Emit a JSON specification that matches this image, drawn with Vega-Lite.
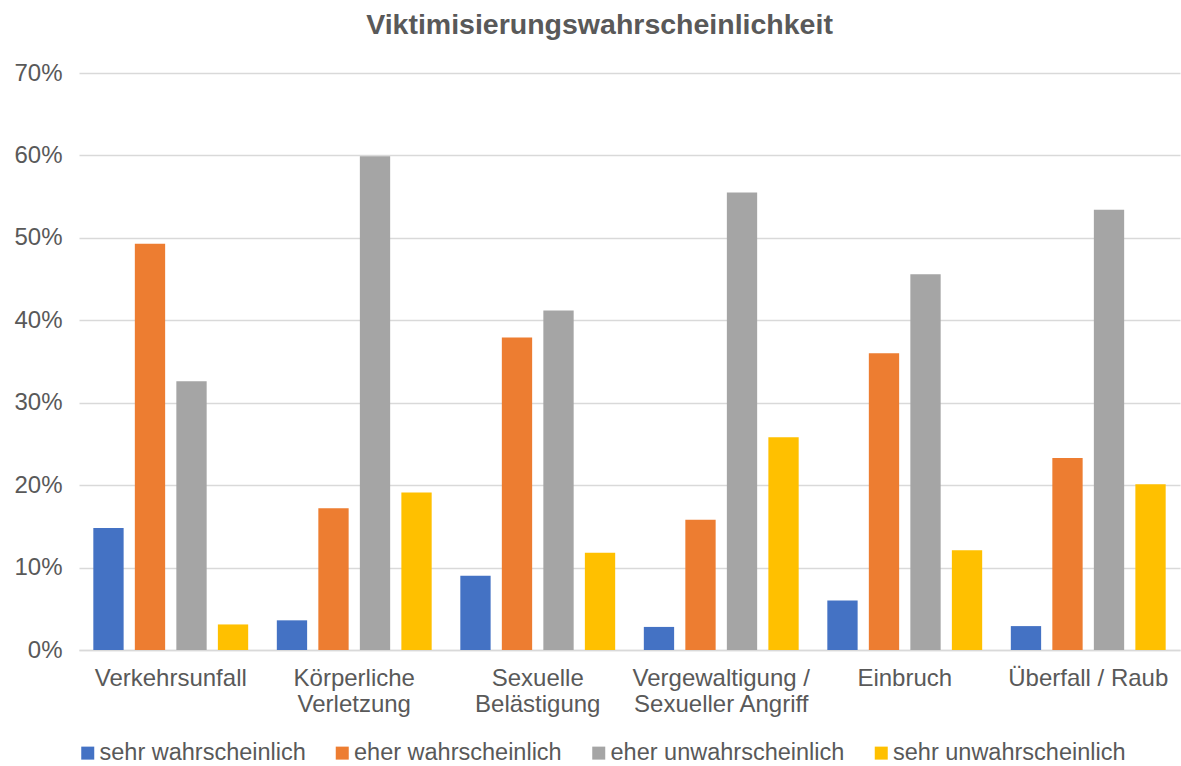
{
  "$schema": "https://vega.github.io/schema/vega-lite/v6.json",
  "width": 1101,
  "height": 577,
  "autosize": {"type": "none"},
  "padding": {"left": 79, "top": 73, "right": 1, "bottom": 116},
  "background": "white",
  "title": {
    "text": "Viktimisierungswahrscheinlichkeit",
    "fontSize": 28.5,
    "fontWeight": "bold",
    "color": "#595959",
    "anchor": "middle",
    "dx": -30,
    "offset": 22
  },
  "config": {
    "font": "Liberation Sans",
    "view": {"stroke": null}
  },
  "data": {
    "values": [
      {"delikt": "Verkehrsunfall", "stufe": "sehr wahrscheinlich", "anteil": 0.148},
      {"delikt": "Verkehrsunfall", "stufe": "eher wahrscheinlich", "anteil": 0.493},
      {"delikt": "Verkehrsunfall", "stufe": "eher unwahrscheinlich", "anteil": 0.326},
      {"delikt": "Verkehrsunfall", "stufe": "sehr unwahrscheinlich", "anteil": 0.031},
      {"delikt": "Körperliche|Verletzung", "stufe": "sehr wahrscheinlich", "anteil": 0.036},
      {"delikt": "Körperliche|Verletzung", "stufe": "eher wahrscheinlich", "anteil": 0.172},
      {"delikt": "Körperliche|Verletzung", "stufe": "eher unwahrscheinlich", "anteil": 0.599},
      {"delikt": "Körperliche|Verletzung", "stufe": "sehr unwahrscheinlich", "anteil": 0.191},
      {"delikt": "Sexuelle|Belästigung", "stufe": "sehr wahrscheinlich", "anteil": 0.090},
      {"delikt": "Sexuelle|Belästigung", "stufe": "eher wahrscheinlich", "anteil": 0.379},
      {"delikt": "Sexuelle|Belästigung", "stufe": "eher unwahrscheinlich", "anteil": 0.412},
      {"delikt": "Sexuelle|Belästigung", "stufe": "sehr unwahrscheinlich", "anteil": 0.118},
      {"delikt": "Vergewaltigung /|Sexueller Angriff", "stufe": "sehr wahrscheinlich", "anteil": 0.028},
      {"delikt": "Vergewaltigung /|Sexueller Angriff", "stufe": "eher wahrscheinlich", "anteil": 0.158},
      {"delikt": "Vergewaltigung /|Sexueller Angriff", "stufe": "eher unwahrscheinlich", "anteil": 0.555},
      {"delikt": "Vergewaltigung /|Sexueller Angriff", "stufe": "sehr unwahrscheinlich", "anteil": 0.258},
      {"delikt": "Einbruch", "stufe": "sehr wahrscheinlich", "anteil": 0.060},
      {"delikt": "Einbruch", "stufe": "eher wahrscheinlich", "anteil": 0.360},
      {"delikt": "Einbruch", "stufe": "eher unwahrscheinlich", "anteil": 0.456},
      {"delikt": "Einbruch", "stufe": "sehr unwahrscheinlich", "anteil": 0.121},
      {"delikt": "Überfall / Raub", "stufe": "sehr wahrscheinlich", "anteil": 0.029},
      {"delikt": "Überfall / Raub", "stufe": "eher wahrscheinlich", "anteil": 0.233},
      {"delikt": "Überfall / Raub", "stufe": "eher unwahrscheinlich", "anteil": 0.534},
      {"delikt": "Überfall / Raub", "stufe": "sehr unwahrscheinlich", "anteil": 0.201}
    ]
  },
  "mark": {"type": "bar"},
  "encoding": {
    "x": {
      "field": "delikt",
      "type": "nominal",
      "sort": null,
      "scale": {"paddingInner": 0, "paddingOuter": 0},
      "axis": {
        "title": null,
        "labelAngle": 0,
        "labelExpr": "split(datum.label, '|')",
        "labelFontSize": 24,
        "labelColor": "#595959",
        "labelLineHeight": 26,
        "labelPadding": 16,
        "labelBaseline": "top",
        "ticks": false,
        "domainColor": "#D9D9D9",
        "domainWidth": 1.5,
        "labelLimit": 400
      }
    },
    "xOffset": {
      "field": "stufe",
      "type": "nominal",
      "sort": ["sehr wahrscheinlich", "eher wahrscheinlich", "eher unwahrscheinlich", "sehr unwahrscheinlich"],
      "scale": {"paddingInner": 0.27, "paddingOuter": 0.345}
    },
    "y": {
      "field": "anteil",
      "type": "quantitative",
      "scale": {"domain": [0, 0.7], "nice": false},
      "axis": {
        "title": null,
        "values": [0, 0.1, 0.2, 0.3, 0.4, 0.5, 0.6, 0.7],
        "format": ".0%",
        "labelFontSize": 24,
        "labelColor": "#595959",
        "labelPadding": 17,
        "ticks": false,
        "domain": false,
        "grid": true,
        "gridColor": "#D9D9D9",
        "gridWidth": 1.5
      }
    },
    "color": {
      "field": "stufe",
      "type": "nominal",
      "scale": {
        "domain": ["sehr wahrscheinlich", "eher wahrscheinlich", "eher unwahrscheinlich", "sehr unwahrscheinlich"],
        "range": ["#4472C4", "#ED7D31", "#A5A5A5", "#FFC000"]
      },
      "legend": {
        "title": null,
        "orient": "none",
        "direction": "horizontal",
        "columns": 4,
        "legendX": -3,
        "legendY": 668,
        "symbolType": "square",
        "symbolSize": 169,
        "symbolStrokeWidth": 0,
        "labelFontSize": 23.5,
        "labelColor": "#595959",
        "labelOffset": 0,
        "labelLimit": 400,
        "columnPadding": 24.5
      }
    }
  }
}
